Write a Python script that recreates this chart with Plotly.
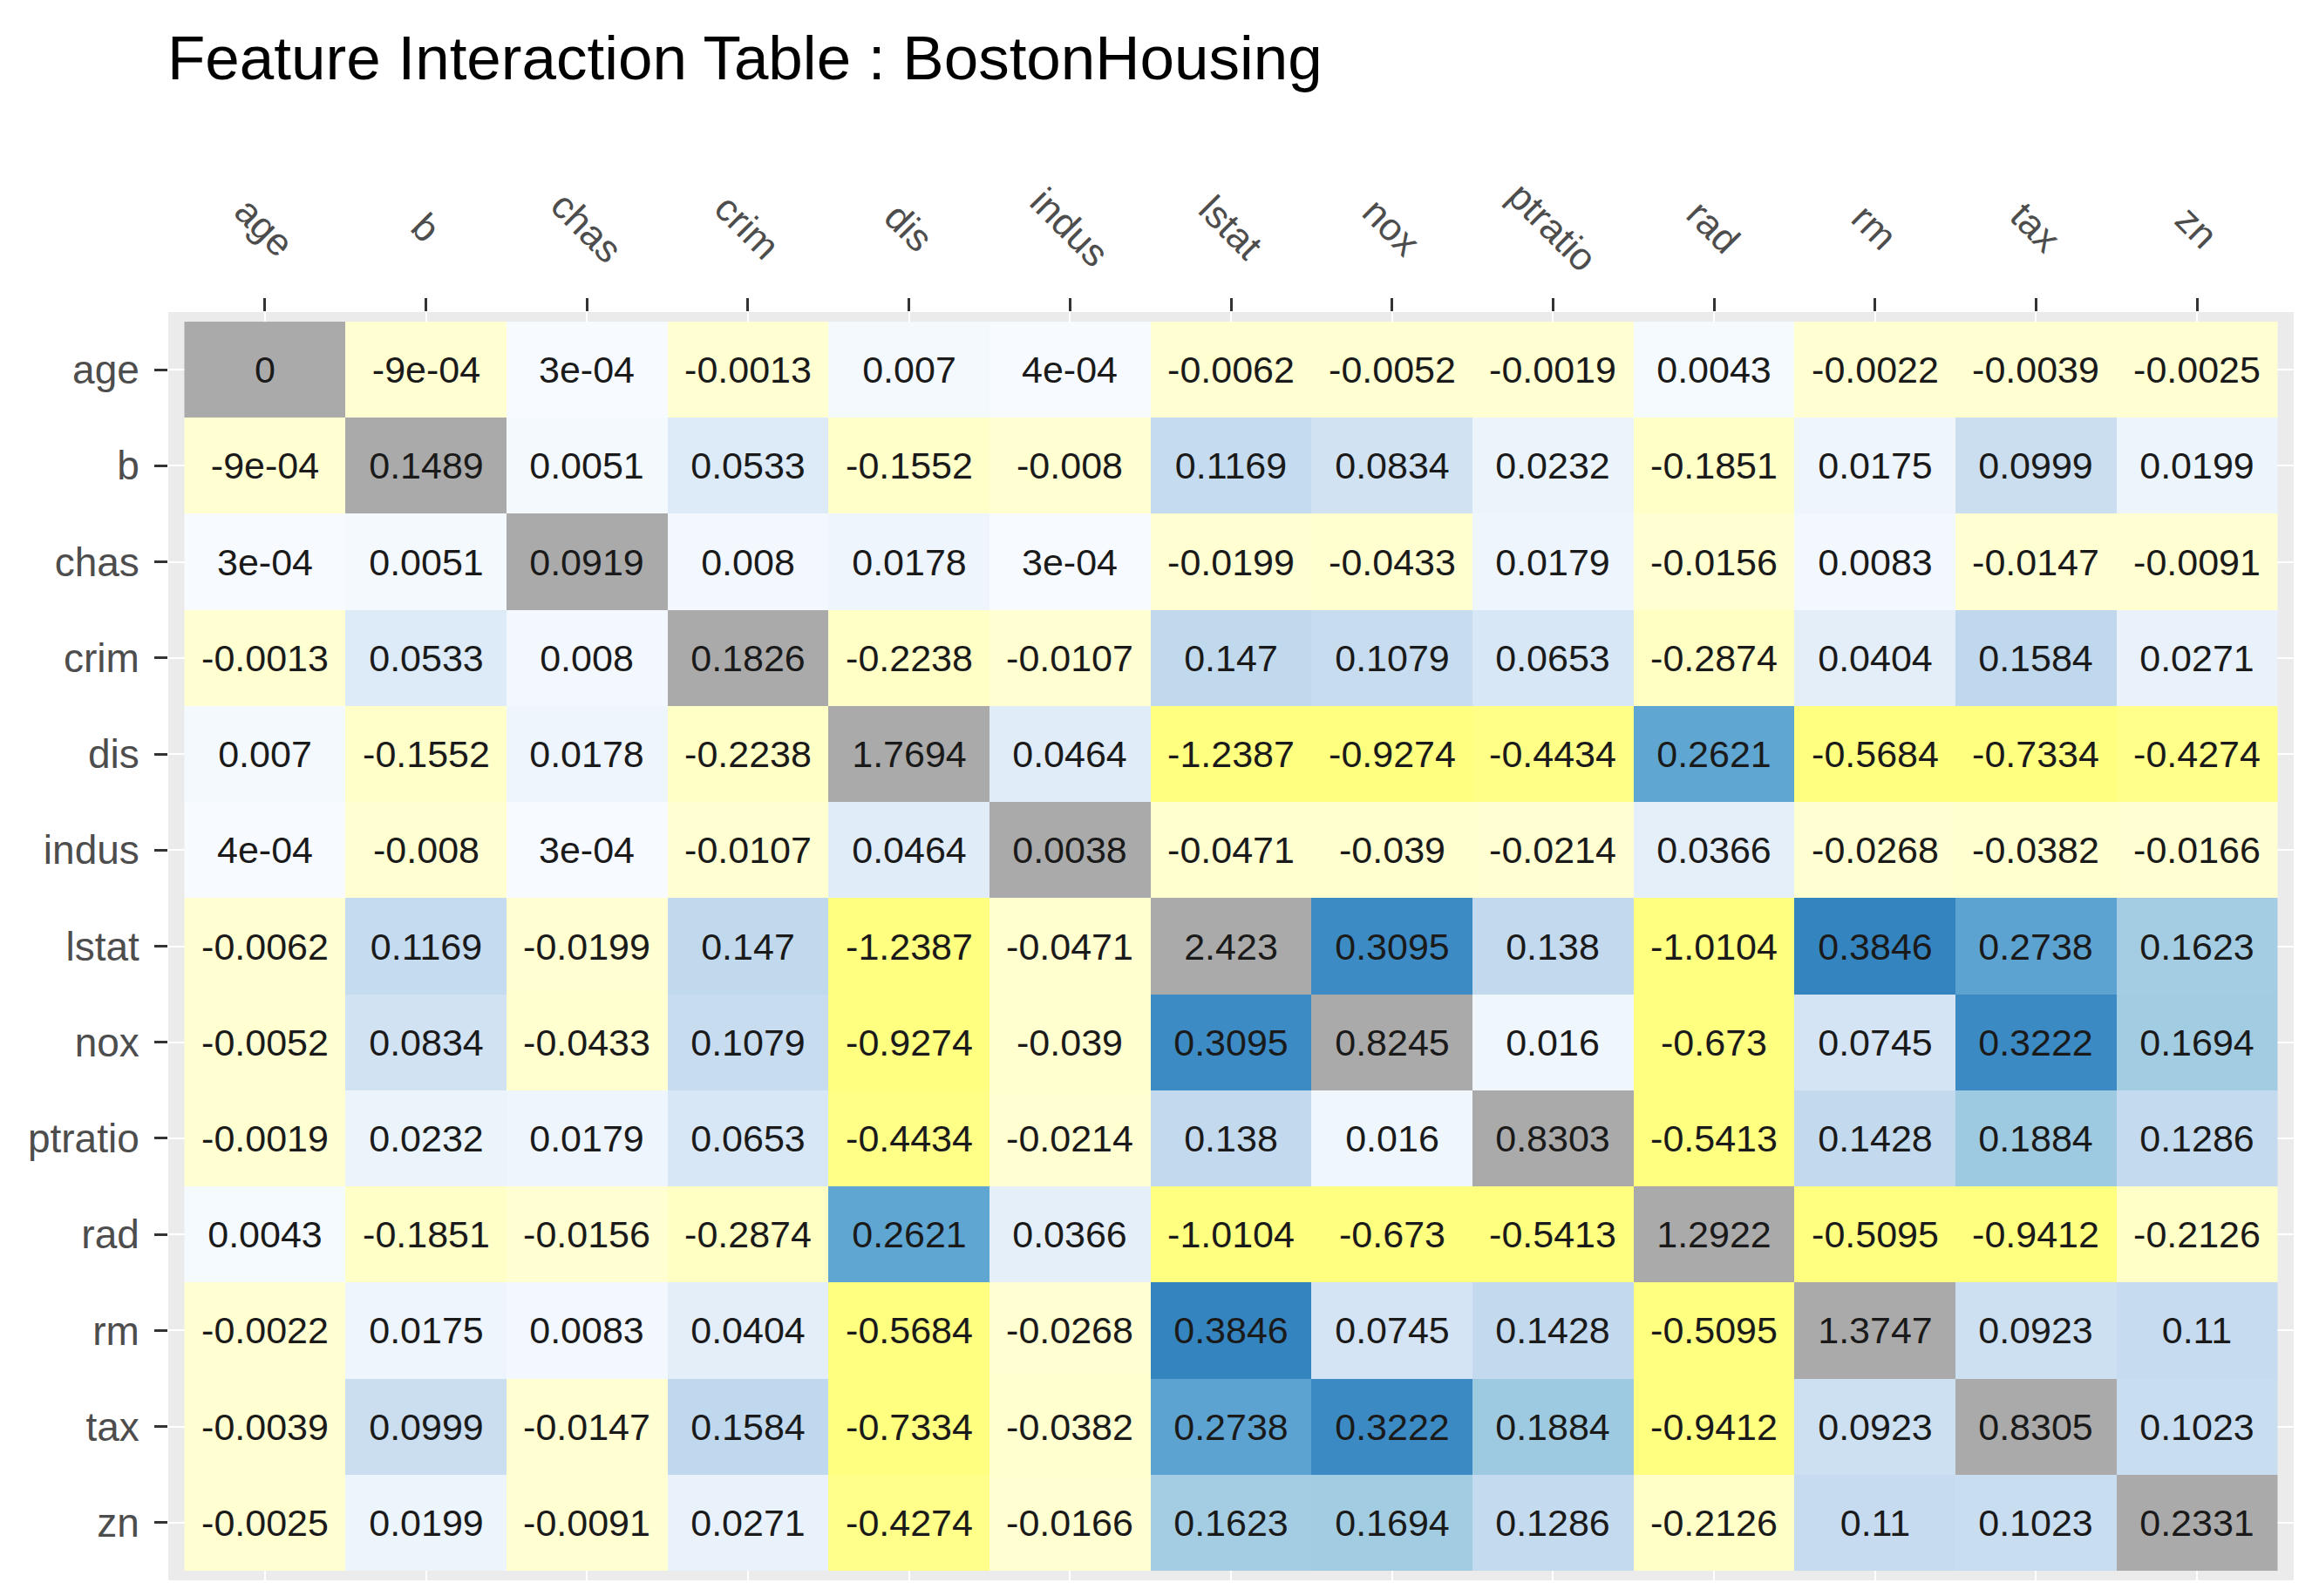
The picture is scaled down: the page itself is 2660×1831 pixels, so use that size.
import plotly.graph_objects as go

features = ["age", "b", "chas", "crim", "dis", "indus", "lstat",
            "nox", "ptratio", "rad", "rm", "tax", "zn"]

# interaction values as printed in the cells (row = y feature, col = x feature)
row_age = ["0", "-9e-04", "3e-04", "-0.0013", "0.007", "4e-04", "-0.0062", "-0.0052", "-0.0019", "0.0043", "-0.0022", "-0.0039", "-0.0025"]
row_b = ["-9e-04", "0.1489", "0.0051", "0.0533", "-0.1552", "-0.008", "0.1169", "0.0834", "0.0232", "-0.1851", "0.0175", "0.0999", "0.0199"]
row_chas = ["3e-04", "0.0051", "0.0919", "0.008", "0.0178", "3e-04", "-0.0199", "-0.0433", "0.0179", "-0.0156", "0.0083", "-0.0147", "-0.0091"]
row_crim = ["-0.0013", "0.0533", "0.008", "0.1826", "-0.2238", "-0.0107", "0.147", "0.1079", "0.0653", "-0.2874", "0.0404", "0.1584", "0.0271"]
row_dis = ["0.007", "-0.1552", "0.0178", "-0.2238", "1.7694", "0.0464", "-1.2387", "-0.9274", "-0.4434", "0.2621", "-0.5684", "-0.7334", "-0.4274"]
row_indus = ["4e-04", "-0.008", "3e-04", "-0.0107", "0.0464", "0.0038", "-0.0471", "-0.039", "-0.0214", "0.0366", "-0.0268", "-0.0382", "-0.0166"]
row_lstat = ["-0.0062", "0.1169", "-0.0199", "0.147", "-1.2387", "-0.0471", "2.423", "0.3095", "0.138", "-1.0104", "0.3846", "0.2738", "0.1623"]
row_nox = ["-0.0052", "0.0834", "-0.0433", "0.1079", "-0.9274", "-0.039", "0.3095", "0.8245", "0.016", "-0.673", "0.0745", "0.3222", "0.1694"]
row_ptratio = ["-0.0019", "0.0232", "0.0179", "0.0653", "-0.4434", "-0.0214", "0.138", "0.016", "0.8303", "-0.5413", "0.1428", "0.1884", "0.1286"]
row_rad = ["0.0043", "-0.1851", "-0.0156", "-0.2874", "0.2621", "0.0366", "-1.0104", "-0.673", "-0.5413", "1.2922", "-0.5095", "-0.9412", "-0.2126"]
row_rm = ["-0.0022", "0.0175", "0.0083", "0.0404", "-0.5684", "-0.0268", "0.3846", "0.0745", "0.1428", "-0.5095", "1.3747", "0.0923", "0.11"]
row_tax = ["-0.0039", "0.0999", "-0.0147", "0.1584", "-0.7334", "-0.0382", "0.2738", "0.3222", "0.1884", "-0.9412", "0.0923", "0.8305", "0.1023"]
row_zn = ["-0.0025", "0.0199", "-0.0091", "0.0271", "-0.4274", "-0.0166", "0.1623", "0.1694", "0.1286", "-0.2126", "0.11", "0.1023", "0.2331"]

labels = [row_age, row_b, row_chas, row_crim, row_dis, row_indus, row_lstat,
          row_nox, row_ptratio, row_rad, row_rm, row_tax, row_zn]

# colour stops (value, colour): yellow for negative, blues for positive
zmin, zmax = -0.5, 0.4
stops = [(-0.5, "#ffff80"), (-0.4, "#ffff8c"), (-0.3, "#ffffc2"),
         (-0.0005, "#ffffd2"), (0.0, "#f7fbff"), (0.05, "#deebf7"),
         (0.11, "#c6dbef"), (0.159, "#c0d8ed"), (0.162, "#a4cde3"),
         (0.19, "#9ecae1"), (0.25, "#62a8d3"), (0.28, "#5aa2d0"),
         (0.30, "#3d8cc6"), (0.4, "#3282bf")]
colorscale = [[(v - zmin) / (zmax - zmin), c] for v, c in stops]

n = len(features)
z_off, t_off, z_diag, t_diag = [], [], [], []
for i in range(n):
    z_off.append([None if i == j else float(labels[i][j]) for j in range(n)])
    t_off.append(["" if i == j else labels[i][j] for j in range(n)])
    z_diag.append([1 if i == j else None for j in range(n)])
    t_diag.append([labels[i][j] if i == j else "" for j in range(n)])

W, H = 2660, 1831
ml, mr, mt, mb = 185, 37, 350, 26
font = "Arial, Liberation Sans, sans-serif"

fig = go.Figure()
fig.add_trace(go.Heatmap(
    z=z_off, x=features, y=features, text=t_off, texttemplate="%{text}",
    textfont=dict(size=43, color="#1a1a1a", family=font),
    colorscale=colorscale, zmin=zmin, zmax=zmax, showscale=False,
    hoverongaps=False))
fig.add_trace(go.Heatmap(
    z=z_diag, x=features, y=features, text=t_diag, texttemplate="%{text}",
    textfont=dict(size=43, color="#1a1a1a", family=font),
    colorscale=[[0, "#aaaaaa"], [1, "#aaaaaa"]], showscale=False,
    hoverongaps=False))

# top labels, rotated about their centres like the original
label_y = 1 + (mt - 252) / (H - mt - mb)
for f in features:
    fig.add_annotation(x=f, y=label_y, xref="x", yref="paper", text=f,
                       textangle=45, showarrow=False, xanchor="center",
                       yanchor="middle",
                       font=dict(size=44, color="#4d4d4d", family=font))

fig.update_layout(
    width=W, height=H,
    margin=dict(l=ml, r=mr, t=mt, b=mb),
    paper_bgcolor="white", plot_bgcolor="#ebebeb",
    font=dict(family=font),
    title=dict(text="Feature Interaction Table : BostonHousing",
               xref="container", yref="container",
               x=184 / W, y=1 - 58 / H, xanchor="left", yanchor="middle",
               font=dict(size=71, color="black", family=font)),
    showlegend=False,
)
fig.update_xaxes(side="top", range=[-0.6, n - 0.4], showticklabels=False,
                 ticks="outside", ticklen=15, tickwidth=3, tickcolor="#333333",
                 showgrid=True, gridcolor="white", gridwidth=2,
                 zeroline=False, showline=False, fixedrange=True)
fig.update_yaxes(range=[n - 0.4, -0.6], ticks="outside", ticklen=15,
                 tickwidth=3, tickcolor="#333333", ticklabelstandoff=8,
                 tickfont=dict(size=46, color="#4d4d4d", family=font),
                 showgrid=True, gridcolor="white", gridwidth=2,
                 zeroline=False, showline=False, fixedrange=True)

fig.write_html("out.html")
